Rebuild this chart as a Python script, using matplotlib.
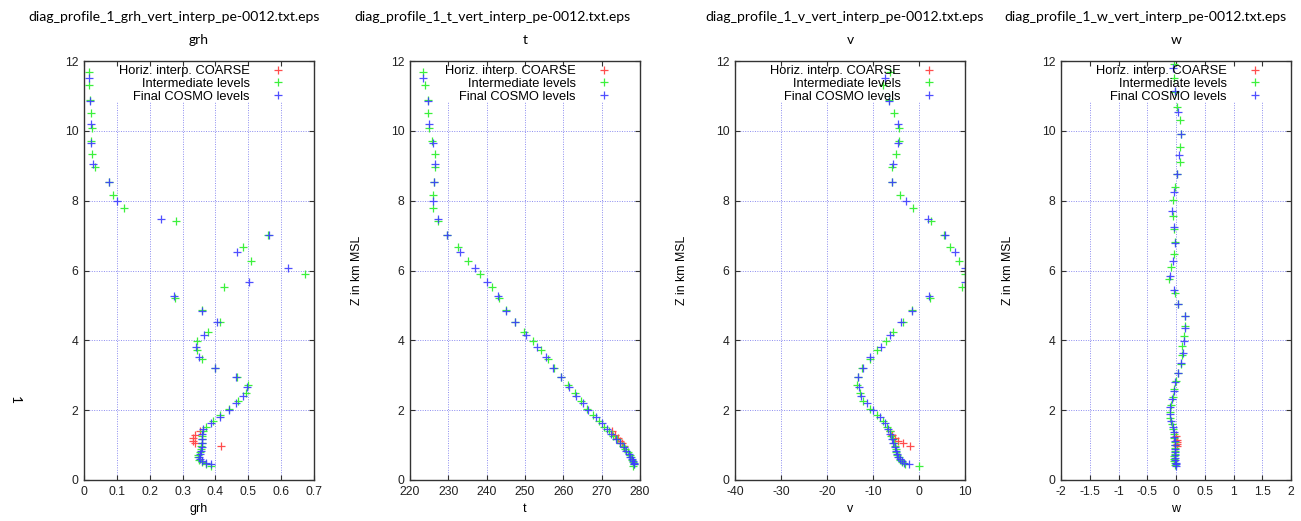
import matplotlib

matplotlib.use("Agg")

from matplotlib import pyplot as plt

# vertical levels (km MSL) of the three point sets
z_inter = [11.69, 11.31, 10.88, 10.50, 10.09, 9.72, 9.34, 8.95, 8.54, 8.17,
           7.79, 7.41, 7.02, 6.66, 6.26, 5.90, 5.54, 5.20, 4.87, 4.52,
           4.25, 3.99, 3.72, 3.47, 3.20, 2.96, 2.72, 2.48, 2.25, 2.04,
           1.85, 1.69, 1.53, 1.39, 1.27, 1.16, 1.06, 0.97, 0.88, 0.80,
           0.72, 0.65, 0.58, 0.52, 0.46, 0.40]
z_cosmo = [11.50, 10.86, 10.19, 9.64, 9.05, 8.53, 8.00, 7.47, 7.02, 6.52,
           6.07, 5.66, 5.26, 4.85, 4.52, 4.15, 3.82, 3.51, 3.20, 2.94,
           2.65, 2.41, 2.20, 2.00, 1.80, 1.62, 1.46, 1.31, 1.17, 1.05,
           0.94, 0.84, 0.75, 0.67, 0.60, 0.54, 0.49, 0.45]
z_coarse = [1.40, 1.30, 1.20, 1.12, 1.05, 0.98]

# w lives on half levels
z_inter_w = [11.91, 11.50, 11.10, 10.67, 10.31, 9.91, 9.53, 9.12, 8.75, 8.38,
             8.02, 7.57, 7.20, 6.81, 6.47, 6.09, 5.76, 5.35, 5.04, 4.71,
             4.40, 4.12, 3.85, 3.58, 3.32, 3.07, 2.83, 2.60, 2.37, 2.15,
             1.95, 1.77, 1.61, 1.46, 1.33, 1.21, 1.10, 1.00, 0.91, 0.83,
             0.75, 0.68, 0.61, 0.55, 0.49, 0.44]
z_cosmo_w = [11.80, 11.15, 10.53, 9.91, 9.31, 8.76, 8.24, 7.71, 7.24, 6.78,
             6.28, 5.83, 5.45, 5.04, 4.71, 4.34, 3.99, 3.65, 3.34, 3.06,
             2.80, 2.56, 2.32, 2.08, 1.89, 1.70, 1.53, 1.38, 1.24, 1.11,
             0.99, 0.89, 0.79, 0.71, 0.63, 0.56, 0.50, 0.45, 0.41]
z_coarse_w = [1.25, 1.15, 1.08, 1.02, 0.97]

grh_inter = [0.016, 0.016, 0.018, 0.020, 0.023, 0.020, 0.023, 0.033, 0.077, 0.087,
             0.123, 0.279, 0.561, 0.483, 0.507, 0.673, 0.426, 0.277, 0.358, 0.414,
             0.376, 0.343, 0.343, 0.360, 0.399, 0.465, 0.500, 0.492, 0.470, 0.440,
             0.414, 0.392, 0.371, 0.361, 0.358, 0.358, 0.358, 0.357, 0.355, 0.352,
             0.348, 0.346, 0.350, 0.360, 0.372, 0.385]
grh_cosmo = [0.016, 0.018, 0.021, 0.021, 0.028, 0.077, 0.101, 0.233, 0.564, 0.465,
             0.622, 0.503, 0.275, 0.358, 0.406, 0.365, 0.340, 0.351, 0.399, 0.462,
             0.497, 0.485, 0.462, 0.442, 0.414, 0.386, 0.363, 0.360, 0.360, 0.360,
             0.358, 0.355, 0.352, 0.350, 0.352, 0.358, 0.370, 0.386]
grh_coarse = [0.352, 0.338, 0.333, 0.332, 0.337, 0.416]

t_inter = [223.5, 223.9, 224.6, 224.6, 225.0, 225.8, 226.5, 226.5, 226.3, 226.1,
           226.1, 227.4, 229.6, 232.4, 235.0, 238.3, 241.3, 243.2, 245.0, 247.4,
           249.7, 252.0, 254.1, 255.9, 257.5, 259.3, 261.2, 263.0, 264.7, 266.2,
           267.8, 269.2, 270.5, 271.9, 273.0, 274.0, 274.9, 275.6, 276.2, 276.8,
           277.3, 277.7, 278.0, 278.3, 278.5, 278.3]
t_cosmo = [223.5, 224.6, 225.0, 226.1, 226.5, 226.3, 226.1, 227.4, 229.6, 233.0,
           237.0, 240.2, 242.9, 245.0, 247.4, 250.2, 253.0, 255.4, 257.4, 259.4,
           261.6, 263.3, 265.0, 266.5, 268.4, 270.0, 271.3, 272.5, 273.8, 274.8,
           275.7, 276.4, 277.0, 277.5, 277.9, 278.2, 278.4, 278.5]
t_coarse = [272.8, 273.6, 274.3, 274.9, 275.4, 275.9]

v_inter = [-6.3, -7.8, -6.5, -5.4, -4.3, -4.4, -5.1, -5.8, -5.8, -4.1,
           -1.4, 2.6, 5.4, 6.7, 8.8, 10.1, 9.4, 2.3, -1.5, -3.4,
           -5.6, -7.2, -9.1, -10.7, -12.5, -13.3, -13.5, -12.9, -12.1, -10.7,
           -9.2, -7.9, -6.9, -6.3, -6.0, -5.7, -5.5, -5.3, -5.1, -4.9,
           -4.7, -4.4, -4.1, -3.6, -3.0, 0.1]
v_cosmo = [-7.5, -6.5, -4.6, -4.6, -5.6, -5.8, -2.9, 2.0, 5.7, 7.8,
           9.9, 10.0, 2.2, -1.5, -3.9, -6.2, -8.3, -10.7, -12.1, -13.3,
           -13.0, -12.6, -11.4, -9.9, -8.5, -7.4, -6.7, -6.2, -5.9, -5.6,
           -5.3, -5.0, -4.8, -4.5, -4.2, -3.8, -3.3, -2.1]
v_coarse = [-6.4, -5.9, -5.2, -4.5, -3.5, -2.0]

w_inter = [-0.04, -0.03, -0.01, 0.02, 0.07, 0.08, 0.07, 0.07, 0.02, -0.01,
           -0.05, -0.05, -0.04, -0.01, -0.04, -0.08, -0.12, -0.01, 0.04, 0.15,
           0.16, 0.14, 0.11, 0.11, 0.08, 0.04, 0.00, -0.03, -0.06, -0.09,
           -0.11, -0.10, -0.07, -0.05, -0.04, -0.03, -0.02, -0.02, -0.02, -0.02,
           -0.02, -0.03, -0.03, -0.03, -0.02, -0.01]
w_cosmo = [-0.05, -0.02, 0.04, 0.08, 0.05, 0.02, -0.03, -0.07, -0.04, -0.01,
           -0.05, -0.11, -0.04, 0.04, 0.15, 0.15, 0.14, 0.12, 0.08, 0.04,
           -0.01, -0.04, -0.07, -0.10, -0.10, -0.08, -0.06, -0.04, -0.03, -0.02,
           -0.02, -0.01, -0.01, -0.01, -0.01, -0.01, 0.00, 0.00, 0.00]
w_coarse = [0.00, 0.01, 0.02, 0.02, 0.01]

var_names = ["grh", "t", "v", "w"]
x_limits = [(0, 0.7), (220, 280), (-40, 10), (-2, 2)]
x_ticks = [
    [0, 0.1, 0.2, 0.3, 0.4, 0.5, 0.6, 0.7],
    [220, 230, 240, 250, 260, 270, 280],
    [-40, -30, -20, -10, 0, 10],
    [-2, -1.5, -1, -0.5, 0, 0.5, 1, 1.5, 2],
]
x_ticklabels = [
    ["0", "0.1", "0.2", "0.3", "0.4", "0.5", "0.6", "0.7"],
    ["220", "230", "240", "250", "260", "270", "280"],
    ["-40", "-30", "-20", "-10", "0", "10"],
    ["-2", "-1.5", "-1", "-0.5", "0", "0.5", "1", "1.5", "2"],
]
y_ticks = [0, 2, 4, 6, 8, 10, 12]

panels = [
    (grh_coarse, grh_inter, grh_cosmo, z_coarse, z_inter, z_cosmo),
    (t_coarse, t_inter, t_cosmo, z_coarse, z_inter, z_cosmo),
    (v_coarse, v_inter, v_cosmo, z_coarse, z_inter, z_cosmo),
    (w_coarse, w_inter, w_cosmo, z_coarse_w, z_inter_w, z_cosmo_w),
]

TXT = "Liberation Sans"
CAP = "Lato"
GRID = "#8c8cf0"

fig = plt.figure(figsize=(13.01, 5.21), dpi=100)
lefts = [84, 410, 735, 1061]
title_x = [174, 492, 845, 1145]

for i, (name, (c_x, i_x, f_x, c_z, i_z, f_z)) in enumerate(zip(var_names, panels)):
    ax = fig.add_axes([lefts[i] / 1301, 41 / 521, 230 / 1301, 419 / 521])
    ax.set_xlim(*x_limits[i])
    ax.set_ylim(0, 12)

    # gnuplot-like grid, blanked where the key sits
    for xt in x_ticks[i][1:-1]:
        ax.axvline(xt, ymax=10.83 / 12, color=GRID, lw=0.7, ls=(0, (1, 1.5)), zorder=0)
    for yt in y_ticks[1:-1]:
        ax.axhline(yt, color=GRID, lw=0.7, ls=(0, (1, 1.5)), zorder=0)

    kw = dict(ls="none", marker="+", ms=6.2, mew=0.9)
    ax.plot(c_x, c_z, color="#ff4d4d", label="Horiz. interp. COARSE", **kw)
    ax.plot(i_x, i_z, color="#3cf03c", label="Intermediate levels", **kw)
    ax.plot(f_x, f_z, color="#3c3cff", label="Final COSMO levels", alpha=0.9, **kw)

    ax.set_xticks(x_ticks[i])
    ax.set_xticklabels(x_ticklabels[i], fontfamily=TXT, fontsize=8.8, color="#222222")
    ax.set_yticks(y_ticks)
    ax.set_yticklabels([str(v) for v in y_ticks], fontfamily=TXT, fontsize=8.8, color="#222222")
    ax.tick_params(direction="in", length=3.5, width=0.8, top=True, right=True, pad=4,
                   color="#333333")
    for sp in ax.spines.values():
        sp.set_color("#333333")
        sp.set_linewidth(1.0)

    ax.set_xlabel(name, fontfamily=TXT, fontsize=9)
    ax.xaxis.set_label_coords(0.5, -0.055)
    if i > 0:
        ax.set_ylabel("Z in km MSL", fontfamily=TXT, fontsize=8.8)
        ax.yaxis.set_label_coords(-47 / 230, 0.5)

    ax.legend(loc="upper right", bbox_to_anchor=(0.9, 0.99), frameon=False,
              markerfirst=False, numpoints=1, handlelength=2.0, handletextpad=1.2,
              borderpad=0, borderaxespad=0, labelspacing=0.05,
              prop={"family": TXT, "size": 9.3})

    fig.text(title_x[i] / 1301, 1 - 17 / 521,
             f"diag_profile_1_{name}_vert_interp_pe-0012.txt.eps",
             ha="center", va="center", fontfamily=CAP, fontsize=10.1)
    fig.text((lefts[i] + 115) / 1301, 1 - 40 / 521, name,
             ha="center", va="center", fontfamily=CAP, fontsize=10)

fig.text(15 / 1301, 1 - 400 / 521, "1", rotation=270, ha="center", va="center",
         fontfamily=CAP, fontsize=10)

fig.savefig("out.png", dpi=100)
